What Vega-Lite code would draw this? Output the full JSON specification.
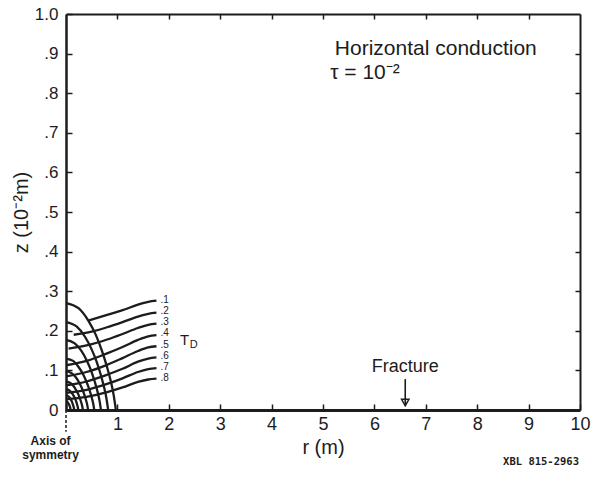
{
  "$schema": "https://vega.github.io/schema/vega-lite/v6.json",
  "width": 514,
  "height": 396,
  "autosize": {"type": "none"},
  "padding": {"left": 66, "top": 14, "right": 17, "bottom": 74},
  "background": "white",
  "config": {
    "view": {"stroke": null},
    "font": "Liberation Sans",
    "axis": {"grid": false, "labelColor": "#1c1c1c", "titleColor": "#1c1c1c", "domainColor": "#1c1c1c", "tickColor": "#1c1c1c", "labelFlush": false, "labelOverlap": false, "titleFontWeight": "normal"}
  },
  "datasets": {
    "curves": [
      {"curve": "A1", "r": 0, "z": 0.27}, {"curve": "A1", "r": 0.243, "z": 0.257}, {"curve": "A1", "r": 0.437, "z": 0.225}, {"curve": "A1", "r": 0.582, "z": 0.189}, {"curve": "A1", "r": 0.698, "z": 0.15}, {"curve": "A1", "r": 0.795, "z": 0.11}, {"curve": "A1", "r": 0.873, "z": 0.072}, {"curve": "A1", "r": 0.931, "z": 0.035}, {"curve": "A1", "r": 0.97, "z": 0},
      {"curve": "A2", "r": 0, "z": 0.222}, {"curve": "A2", "r": 0.205, "z": 0.211}, {"curve": "A2", "r": 0.369, "z": 0.185}, {"curve": "A2", "r": 0.492, "z": 0.155}, {"curve": "A2", "r": 0.59, "z": 0.124}, {"curve": "A2", "r": 0.672, "z": 0.091}, {"curve": "A2", "r": 0.738, "z": 0.059}, {"curve": "A2", "r": 0.787, "z": 0.029}, {"curve": "A2", "r": 0.82, "z": 0},
      {"curve": "A3", "r": 0, "z": 0.177}, {"curve": "A3", "r": 0.17, "z": 0.168}, {"curve": "A3", "r": 0.306, "z": 0.148}, {"curve": "A3", "r": 0.408, "z": 0.124}, {"curve": "A3", "r": 0.49, "z": 0.099}, {"curve": "A3", "r": 0.558, "z": 0.072}, {"curve": "A3", "r": 0.612, "z": 0.047}, {"curve": "A3", "r": 0.653, "z": 0.023}, {"curve": "A3", "r": 0.68, "z": 0},
      {"curve": "A4", "r": 0, "z": 0.13}, {"curve": "A4", "r": 0.138, "z": 0.124}, {"curve": "A4", "r": 0.248, "z": 0.108}, {"curve": "A4", "r": 0.33, "z": 0.091}, {"curve": "A4", "r": 0.396, "z": 0.072}, {"curve": "A4", "r": 0.451, "z": 0.053}, {"curve": "A4", "r": 0.495, "z": 0.034}, {"curve": "A4", "r": 0.528, "z": 0.017}, {"curve": "A4", "r": 0.55, "z": 0},
      {"curve": "A5", "r": 0, "z": 0.098}, {"curve": "A5", "r": 0.108, "z": 0.093}, {"curve": "A5", "r": 0.194, "z": 0.082}, {"curve": "A5", "r": 0.258, "z": 0.069}, {"curve": "A5", "r": 0.31, "z": 0.055}, {"curve": "A5", "r": 0.353, "z": 0.04}, {"curve": "A5", "r": 0.387, "z": 0.026}, {"curve": "A5", "r": 0.413, "z": 0.013}, {"curve": "A5", "r": 0.43, "z": 0},
      {"curve": "A6", "r": 0, "z": 0.072}, {"curve": "A6", "r": 0.083, "z": 0.068}, {"curve": "A6", "r": 0.149, "z": 0.06}, {"curve": "A6", "r": 0.198, "z": 0.05}, {"curve": "A6", "r": 0.238, "z": 0.04}, {"curve": "A6", "r": 0.271, "z": 0.029}, {"curve": "A6", "r": 0.297, "z": 0.019}, {"curve": "A6", "r": 0.317, "z": 0.009}, {"curve": "A6", "r": 0.33, "z": 0},
      {"curve": "A7", "r": 0, "z": 0.053}, {"curve": "A7", "r": 0.06, "z": 0.05}, {"curve": "A7", "r": 0.108, "z": 0.044}, {"curve": "A7", "r": 0.144, "z": 0.037}, {"curve": "A7", "r": 0.173, "z": 0.03}, {"curve": "A7", "r": 0.197, "z": 0.022}, {"curve": "A7", "r": 0.216, "z": 0.014}, {"curve": "A7", "r": 0.23, "z": 0.007}, {"curve": "A7", "r": 0.24, "z": 0},
      {"curve": "A8", "r": 0, "z": 0.037}, {"curve": "A8", "r": 0.04, "z": 0.035}, {"curve": "A8", "r": 0.072, "z": 0.031}, {"curve": "A8", "r": 0.096, "z": 0.026}, {"curve": "A8", "r": 0.115, "z": 0.021}, {"curve": "A8", "r": 0.131, "z": 0.015}, {"curve": "A8", "r": 0.144, "z": 0.01}, {"curve": "A8", "r": 0.154, "z": 0.005}, {"curve": "A8", "r": 0.16, "z": 0},
      {"curve": "A9", "r": 0, "z": 0.022}, {"curve": "A9", "r": 0.041, "z": 0.018}, {"curve": "A9", "r": 0.065, "z": 0.012}, {"curve": "A9", "r": 0.081, "z": 0.006}, {"curve": "A9", "r": 0.09, "z": 0},
      {"curve": "T1", "r": 0.44, "z": 0.226}, {"curve": "T1", "r": 0.8, "z": 0.24}, {"curve": "T1", "r": 1.1, "z": 0.252}, {"curve": "T1", "r": 1.4, "z": 0.266}, {"curve": "T1", "r": 1.6, "z": 0.273}, {"curve": "T1", "r": 1.76, "z": 0.276},
      {"curve": "T2", "r": 0.15, "z": 0.19}, {"curve": "T2", "r": 0.5, "z": 0.198}, {"curve": "T2", "r": 0.8, "z": 0.209}, {"curve": "T2", "r": 1.1, "z": 0.222}, {"curve": "T2", "r": 1.4, "z": 0.236}, {"curve": "T2", "r": 1.6, "z": 0.243}, {"curve": "T2", "r": 1.76, "z": 0.246},
      {"curve": "T3", "r": 0.05, "z": 0.155}, {"curve": "T3", "r": 0.4, "z": 0.163}, {"curve": "T3", "r": 0.8, "z": 0.178}, {"curve": "T3", "r": 1.1, "z": 0.192}, {"curve": "T3", "r": 1.4, "z": 0.207}, {"curve": "T3", "r": 1.6, "z": 0.215}, {"curve": "T3", "r": 1.76, "z": 0.218},
      {"curve": "T4", "r": 0, "z": 0.113}, {"curve": "T4", "r": 0.4, "z": 0.124}, {"curve": "T4", "r": 0.8, "z": 0.143}, {"curve": "T4", "r": 1.1, "z": 0.159}, {"curve": "T4", "r": 1.4, "z": 0.177}, {"curve": "T4", "r": 1.6, "z": 0.186}, {"curve": "T4", "r": 1.76, "z": 0.189},
      {"curve": "T5", "r": 0, "z": 0.085}, {"curve": "T5", "r": 0.4, "z": 0.096}, {"curve": "T5", "r": 0.8, "z": 0.114}, {"curve": "T5", "r": 1.1, "z": 0.131}, {"curve": "T5", "r": 1.4, "z": 0.149}, {"curve": "T5", "r": 1.6, "z": 0.158}, {"curve": "T5", "r": 1.76, "z": 0.161},
      {"curve": "T6", "r": 0, "z": 0.062}, {"curve": "T6", "r": 0.4, "z": 0.072}, {"curve": "T6", "r": 0.8, "z": 0.089}, {"curve": "T6", "r": 1.1, "z": 0.104}, {"curve": "T6", "r": 1.4, "z": 0.122}, {"curve": "T6", "r": 1.6, "z": 0.13}, {"curve": "T6", "r": 1.76, "z": 0.133},
      {"curve": "T7", "r": 0, "z": 0.043}, {"curve": "T7", "r": 0.4, "z": 0.051}, {"curve": "T7", "r": 0.8, "z": 0.066}, {"curve": "T7", "r": 1.1, "z": 0.08}, {"curve": "T7", "r": 1.4, "z": 0.096}, {"curve": "T7", "r": 1.6, "z": 0.103}, {"curve": "T7", "r": 1.76, "z": 0.106},
      {"curve": "T8", "r": 0, "z": 0.027}, {"curve": "T8", "r": 0.4, "z": 0.033}, {"curve": "T8", "r": 0.8, "z": 0.045}, {"curve": "T8", "r": 1.1, "z": 0.057}, {"curve": "T8", "r": 1.4, "z": 0.071}, {"curve": "T8", "r": 1.6, "z": 0.077}, {"curve": "T8", "r": 1.76, "z": 0.079}
    ],
    "contourLabels": [
      {"label": ".1", "r": 1.84, "z": 0.279},
      {"label": ".2", "r": 1.84, "z": 0.251},
      {"label": ".3", "r": 1.84, "z": 0.222},
      {"label": ".4", "r": 1.84, "z": 0.194},
      {"label": ".5", "r": 1.84, "z": 0.165},
      {"label": ".6", "r": 1.84, "z": 0.137},
      {"label": ".7", "r": 1.84, "z": 0.108},
      {"label": ".8", "r": 1.84, "z": 0.08}
    ]
  },
  "layer": [
    {
      "data": {"name": "curves"},
      "mark": {"type": "line", "interpolate": "monotone", "strokeWidth": 2.3, "color": "#1c1c1c"},
      "encoding": {
        "x": {
          "field": "r", "type": "quantitative",
          "scale": {"domain": [0, 10], "nice": false},
          "axis": {
            "orient": "bottom", "values": [0, 1, 2, 3, 4, 5, 6, 7, 8, 9, 10],
            "labelExpr": "datum.value == 0 ? '' : datum.label",
            "title": "r (m)", "titleFontSize": 20, "titlePadding": 4,
            "labelFontSize": 18, "labelPadding": 11,
            "tickSize": -6, "tickWidth": 1.5, "domainWidth": 3
          }
        },
        "y": {
          "field": "z", "type": "quantitative",
          "scale": {"domain": [0, 1], "nice": false},
          "axis": {
            "orient": "left", "values": [0, 0.1, 0.2, 0.3, 0.4, 0.5, 0.6, 0.7, 0.8, 0.9, 1],
            "labelExpr": "datum.value == 0 ? '0' : replace(format(datum.value, '.1f'), '0.', '.')",
            "title": "z (10⁻²m)", "titleFontSize": 20, "titlePadding": 3,
            "labelFontSize": 17, "labelPadding": 14,
            "tickSize": -6, "tickWidth": 1.5, "domainWidth": 2.5
          }
        },
        "detail": {"field": "curve"}
      }
    },
    {
      "data": {"name": "contourLabels"},
      "mark": {"type": "text", "align": "left", "baseline": "middle", "fontSize": 10, "color": "#1c1c1c"},
      "encoding": {
        "x": {"field": "r", "type": "quantitative", "scale": {"domain": [0, 10], "nice": false}, "axis": null},
        "y": {"field": "z", "type": "quantitative", "scale": {"domain": [0, 1], "nice": false}, "axis": null},
        "text": {"field": "label"}
      }
    },
    {
      "data": {"values": [{"t": "T", "r": 2.22, "z": 0.178}]},
      "mark": {"type": "text", "align": "left", "baseline": "middle", "fontSize": 15, "color": "#1c1c1c"},
      "encoding": {
        "x": {"field": "r", "type": "quantitative", "scale": {"domain": [0, 10], "nice": false}, "axis": null},
        "y": {"field": "z", "type": "quantitative", "scale": {"domain": [0, 1], "nice": false}, "axis": null},
        "text": {"field": "t"}
      }
    },
    {
      "data": {"values": [{"t": "D", "r": 2.41, "z": 0.165}]},
      "mark": {"type": "text", "align": "left", "baseline": "middle", "fontSize": 11, "color": "#1c1c1c"},
      "encoding": {
        "x": {"field": "r", "type": "quantitative", "scale": {"domain": [0, 10], "nice": false}, "axis": null},
        "y": {"field": "z", "type": "quantitative", "scale": {"domain": [0, 1], "nice": false}, "axis": null},
        "text": {"field": "t"}
      }
    },
    {
      "data": {"values": [
        {"t": "Horizontal conduction", "r": 5.23, "z": 0.912},
        {"t": "τ = 10⁻²", "r": 5.14, "z": 0.851}
      ]},
      "mark": {"type": "text", "align": "left", "baseline": "middle", "fontSize": 21, "color": "#1c1c1c"},
      "encoding": {
        "x": {"field": "r", "type": "quantitative", "scale": {"domain": [0, 10], "nice": false}, "axis": null},
        "y": {"field": "z", "type": "quantitative", "scale": {"domain": [0, 1], "nice": false}, "axis": null},
        "text": {"field": "t"}
      }
    },
    {
      "data": {"values": [{"t": "Fracture", "r": 6.6, "z": 0.108}]},
      "mark": {"type": "text", "align": "center", "baseline": "middle", "fontSize": 18, "color": "#1c1c1c"},
      "encoding": {
        "x": {"field": "r", "type": "quantitative", "scale": {"domain": [0, 10], "nice": false}, "axis": null},
        "y": {"field": "z", "type": "quantitative", "scale": {"domain": [0, 1], "nice": false}, "axis": null},
        "text": {"field": "t"}
      }
    },
    {
      "data": {"values": [{"r": 6.6, "z": 0.078, "z2": 0.01}]},
      "mark": {"type": "rule", "strokeWidth": 1.6, "color": "#1c1c1c"},
      "encoding": {
        "x": {
          "field": "r", "type": "quantitative", "scale": {"domain": [0, 10], "nice": false},
          "axis": {"orient": "top", "values": [1, 2, 3, 4, 5, 6, 7, 8, 9], "labels": false, "title": null, "tickSize": -5, "tickWidth": 1.5, "domainWidth": 2}
        },
        "y": {
          "field": "z", "type": "quantitative", "scale": {"domain": [0, 1], "nice": false},
          "axis": {"orient": "right", "values": [0.1, 0.2, 0.3, 0.4, 0.5, 0.6, 0.7, 0.8, 0.9], "labels": false, "title": null, "tickSize": -5, "tickWidth": 1.5, "domainWidth": 2}
        },
        "y2": {"field": "z2"}
      }
    },
    {
      "data": {"values": [{"r": 6.6, "z": 0.019}]},
      "mark": {"type": "point", "shape": "triangle-down", "filled": false, "size": 55, "strokeWidth": 1.5, "color": "#1c1c1c", "opacity": 1},
      "encoding": {
        "x": {"field": "r", "type": "quantitative", "scale": {"domain": [0, 10], "nice": false}, "axis": null},
        "y": {"field": "z", "type": "quantitative", "scale": {"domain": [0, 1], "nice": false}, "axis": null}
      }
    },
    {
      "data": {"values": [{"r": 0, "z": 0, "z2": -0.055}]},
      "mark": {"type": "rule", "strokeWidth": 1.5, "strokeDash": [3, 2], "color": "#1c1c1c"},
      "encoding": {
        "x": {"field": "r", "type": "quantitative", "scale": {"domain": [0, 10], "nice": false}, "axis": null},
        "y": {"field": "z", "type": "quantitative", "scale": {"domain": [0, 1], "nice": false}, "axis": null},
        "y2": {"field": "z2"}
      }
    },
    {
      "data": {"values": [
        {"t": "Axis of", "r": -0.3, "z": -0.078},
        {"t": "symmetry", "r": -0.3, "z": -0.113}
      ]},
      "mark": {"type": "text", "align": "center", "baseline": "middle", "fontSize": 12, "fontWeight": "bold", "color": "#1c1c1c"},
      "encoding": {
        "x": {"field": "r", "type": "quantitative", "scale": {"domain": [0, 10], "nice": false}, "axis": null},
        "y": {"field": "z", "type": "quantitative", "scale": {"domain": [0, 1], "nice": false}, "axis": null},
        "text": {"field": "t"}
      }
    },
    {
      "data": {"values": [{"t": "XBL 815-2963", "r": 9.98, "z": -0.132}]},
      "mark": {"type": "text", "align": "right", "baseline": "middle", "font": "DejaVu Sans Mono", "fontSize": 10.5, "fontWeight": "bold", "color": "#1c1c1c"},
      "encoding": {
        "x": {"field": "r", "type": "quantitative", "scale": {"domain": [0, 10], "nice": false}, "axis": null},
        "y": {"field": "z", "type": "quantitative", "scale": {"domain": [0, 1], "nice": false}, "axis": null},
        "text": {"field": "t"}
      }
    }
  ],
  "resolve": {"axis": {"x": "independent", "y": "independent"}}
}
